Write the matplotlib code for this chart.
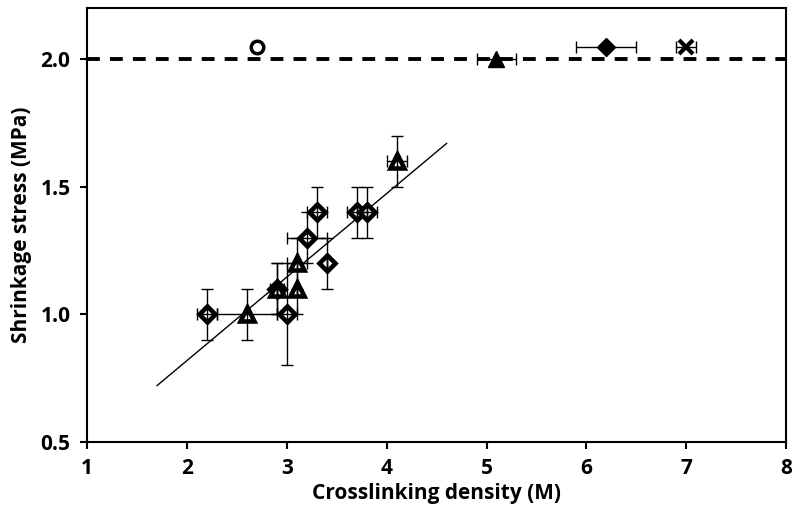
import matplotlib.pyplot as plt

# dados
dia_x = [2.2, 3.0, 2.9, 3.2, 3.3, 3.4, 3.7, 3.8]
dia_y = [1.0, 1.0, 1.1, 1.3, 1.4, 1.2, 1.4, 1.4]
dia_xerr = [0.1, 0.1, 0.07, 0.2, 0.1, 0.0, 0.1, 0.1]
dia_yerr = [0.1, 0.2, 0.1, 0.1, 0.1, 0.1, 0.1, 0.1]

tri_x = [2.6, 2.9, 3.1, 3.1, 4.1]
tri_y = [1.0, 1.1, 1.1, 1.2, 1.6]
tri_xerr = [0.3, 0.0, 0.0, 0.1, 0.1]
tri_yerr = [0.1, 0.1, 0.1, 0.1, 0.1]

# pontos de referencia no topo
circ_x, circ_y = [2.7], [2.05]
tri_top_x, tri_top_y, tri_top_xerr = [5.1], [2.0], [0.2]
dia_top_x, dia_top_y, dia_top_xerr = [6.2], [2.05], [0.3]
cruz_x, cruz_y, cruz_xerr = [7.0], [2.05], [0.1]

# reta de ajuste
ajuste_x = [1.7, 4.6]
ajuste_y = [0.72, 1.67]

limite = 2.0

fig = plt.figure(figsize=(8, 5.22), dpi=100)
ax = fig.add_axes([0.109, 0.154, 0.8735, 0.83])

ax.axhline(limite, color='black', lw=2.8, linestyle=(0, (3.3, 2.6)), zorder=1)
ax.plot(ajuste_x, ajuste_y, color='black', lw=1.0, zorder=2)

estilo = dict(fmt='none', ecolor='black', elinewidth=1.0, capsize=4, capthick=1.0)

ax.plot(dia_x, dia_y, 'D', ms=8, mfc='white', mec='black', mew=3.3, zorder=3)
ax.plot(tri_x, tri_y, '^', ms=10, mfc='white', mec='black', mew=3.3, zorder=3)
ax.errorbar(dia_x, dia_y, xerr=dia_xerr, yerr=dia_yerr, zorder=4, **estilo)
ax.errorbar(tri_x, tri_y, xerr=tri_xerr, yerr=tri_yerr, zorder=4, **estilo)

ax.errorbar(tri_top_x, tri_top_y, xerr=tri_top_xerr, zorder=3, **estilo)
ax.errorbar(dia_top_x, dia_top_y, xerr=dia_top_xerr, zorder=3, **estilo)
ax.errorbar(cruz_x, cruz_y, xerr=cruz_xerr, zorder=3, **estilo)
ax.plot(circ_x, circ_y, 'o', ms=9, mfc='white', mec='black', mew=2.5, zorder=4)
ax.plot(tri_top_x, tri_top_y, '^', ms=12, color='black', zorder=4)
ax.plot(dia_top_x, dia_top_y, 'D', ms=9, color='black', zorder=4)
ax.plot(cruz_x, cruz_y, 'x', ms=10, mew=3, color='black', zorder=4)

ax.set_xlim(1, 8)
ax.set_ylim(0.5, 2.2)
ax.set_xticks(range(1, 9))
ax.set_yticks([0.5, 1.0, 1.5, 2.0])
ax.set_yticklabels(['0.5', '1.0', '1.5', '2.0'])

for s in ax.spines.values():
    s.set_linewidth(1.5)
ax.tick_params(direction='out', length=5, width=1.5, pad=7)
for lab in ax.get_xticklabels() + ax.get_yticklabels():
    lab.set_fontfamily('Open Sans')
    lab.set_fontweight('bold')
    lab.set_fontsize(15)

ax.set_xlabel('Crosslinking density (M)', fontfamily='Open Sans', fontweight='bold', fontsize=15, labelpad=3)
ax.set_ylabel('Shrinkage stress (MPa)', fontfamily='Open Sans', fontweight='bold', fontsize=15, labelpad=6)

fig.savefig('out.png', dpi=100)
